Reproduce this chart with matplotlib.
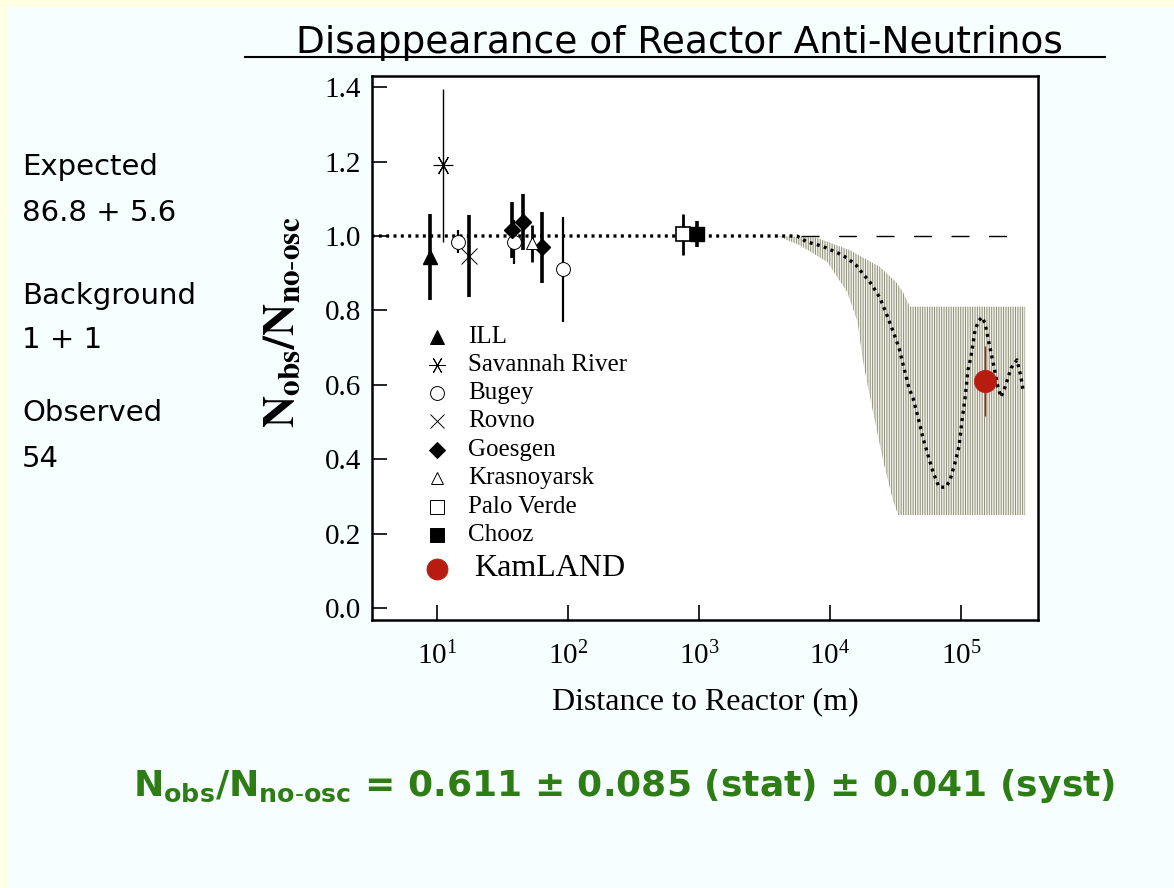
import matplotlib
matplotlib.use("Agg")
import matplotlib.pyplot as plt
import numpy as np
from matplotlib.patches import Rectangle
from matplotlib.lines import Line2D

plt.rcParams['mathtext.fontset'] = 'stix'
plt.rcParams['hatch.linewidth'] = 0.7

# Reactor experiments: distance (m), ratio, error
ill_L = [8.9];             ill_r = [0.944];  ill_e = [0.115]
savannah_L = [11.1];       savannah_r = [1.19]; savannah_e = [0.205]
bugey_L = [14.5, 39.0, 91.0]; bugey_r = [0.985, 0.984, 0.91]; bugey_e = [0.03, 0.06, 0.14]
rovno_L = [17.5];          rovno_r = [0.947]; rovno_e = [0.11]
goesgen_L = [37.5, 45.6, 63.0]; goesgen_r = [1.016, 1.037, 0.970]; goesgen_e = [0.075, 0.075, 0.095]
krasno_L = [53.0];         krasno_r = [0.98]; krasno_e = [0.05]
paloverde_L = [757.0];     paloverde_r = [1.005]; paloverde_e = [0.055]
chooz_L = [960.0];         chooz_r = [1.005]; chooz_e = [0.035]
kamland_L = [1.52e5];      kamland_r = [0.611]; kamland_e = [0.094]

# Best-fit oscillation curve (log10 distance, ratio)
curve_logL = [0.50, 3.748, 3.824, 3.939, 4.061, 4.130, 4.198, 4.252, 4.305, 4.344,
              4.382, 4.435, 4.481, 4.527, 4.557, 4.603, 4.634, 4.664, 4.710, 4.748,
              4.786, 4.832, 4.885, 4.916, 4.954, 4.985, 5.008, 5.031, 5.053, 5.076,
              5.107, 5.135, 5.160, 5.183, 5.214, 5.252, 5.282, 5.305, 5.336, 5.382,
              5.427, 5.458, 5.473]
curve_r = [1.0, 1.0, 0.984, 0.973, 0.954, 0.941, 0.922, 0.898, 0.876, 0.855,
           0.833, 0.787, 0.744, 0.699, 0.656, 0.591, 0.564, 0.524, 0.457, 0.411,
           0.366, 0.325, 0.325, 0.344, 0.390, 0.435, 0.505, 0.564, 0.640, 0.675,
           0.747, 0.772, 0.782, 0.766, 0.712, 0.648, 0.594, 0.567, 0.594, 0.645,
           0.667, 0.621, 0.586]

# Allowed region band
band_up_logL = [3.60, 3.90, 4.15, 4.38, 4.51, 4.56, 4.61, 5.49]
band_up = [1.0, 0.995, 0.962, 0.917, 0.874, 0.847, 0.81, 0.81]
band_lo_logL = [3.60, 3.77, 3.98, 4.13, 4.21, 4.25, 4.33, 4.41, 4.48, 4.52, 5.49]
band_lo = [1.0, 0.975, 0.93, 0.85, 0.77, 0.667, 0.524, 0.39, 0.29, 0.25, 0.25]

legend_names = ["ILL", "Savannah River", "Bugey", "Rovno", "Goesgen",
                "Krasnoyarsk", "Palo Verde", "Chooz", "KamLAND"]

fig = plt.figure(figsize=(11.74, 8.88), dpi=100)
fig.patch.set_facecolor('#f6feff')
# yellow strips at left and top edge
fig.patches.append(Rectangle((0, 0), 8 / 1174, 1, transform=fig.transFigure,
                             facecolor='#ffffe4', edgecolor='none', zorder=0))
fig.patches.append(Rectangle((0, 1 - 7 / 888), 1, 7 / 888, transform=fig.transFigure,
                             facecolor='#ffffe4', edgecolor='none', zorder=0))

ax = fig.add_axes([372 / 1174, 1 - 620 / 888, 666 / 1174, 544 / 888])
ax.set_facecolor('white')
ax.set_xscale('log')
ax.set_xlim(3.19, 3.87e5)
ax.set_ylim(-0.032, 1.43)

# band
poly_x = np.concatenate([10 ** np.array(band_up_logL), 10 ** np.array(band_lo_logL)[::-1]])
poly_y = np.concatenate([band_up, band_lo[::-1]])
ax.fill(poly_x, poly_y, facecolor='#f3f3e8', edgecolor='#8e8e7c', hatch='|||||||',
        linewidth=0, zorder=1)

# no-oscillation line
ax.plot([10 ** 3.78, 10 ** 5.47], [1.0, 1.0], color='black', lw=1.0,
        dashes=(13, 14), zorder=2)
ax.plot(10 ** np.array(curve_logL), curve_r, color='black', lw=2.4,
        dashes=(0.9, 1.3), zorder=3)

def points(L, r, e, marker, ms, fc, lw_err=2.6, mew=1.0, color='black'):
    ax.errorbar(L, r, yerr=e, fmt='none', ecolor=color, elinewidth=lw_err,
                capsize=0, zorder=4)
    ax.plot(L, r, linestyle='none', marker=marker, markersize=ms,
            markerfacecolor=fc, markeredgecolor=color, markeredgewidth=mew, zorder=5)

points(ill_L, ill_r, ill_e, '^', 10, 'black')
points(savannah_L, savannah_r, savannah_e, (6, 2, 90), 14, 'black', lw_err=1.0, mew=0.8)
points(bugey_L, bugey_r, bugey_e, 'o', 10, 'white', lw_err=1.6, mew=0.7)
points(rovno_L, rovno_r, rovno_e, 'x', 11, 'black', mew=0.7)
points(goesgen_L, goesgen_r, goesgen_e, 'D', 8, 'black')
points(krasno_L, krasno_r, krasno_e, '^', 9, 'white', lw_err=2.0, mew=0.7)
points(paloverde_L, paloverde_r, paloverde_e, 's', 10, 'white', lw_err=2.0, mew=1.2)
points(chooz_L, chooz_r, chooz_e, 's', 10, 'black')
points(kamland_L, kamland_r, kamland_e, 'o', 16, '#b81c10', lw_err=1.0,
       mew=0.5, color='#b81c10')

# key inside the axes
leg_styles = [('^', 10, 'black', 'black'), ((6, 2, 90), 12, 'black', 'black'),
              ('o', 10, 'white', 'black'), ('x', 10, 'black', 'black'),
              ('D', 8, 'black', 'black'), ('^', 9, 'white', 'black'),
              ('s', 10, 'white', 'black'), ('s', 10, 'black', 'black'),
              ('o', 15, '#b81c10', '#b81c10')]
leg_y = [0.520, 0.469, 0.417, 0.366, 0.3125, 0.261, 0.208, 0.156, 0.094]
for name, (m, ms, fc, ec), yy in zip(legend_names, leg_styles, leg_y):
    ax.add_line(Line2D([0.098], [yy], transform=ax.transAxes, marker=m, markersize=ms,
                       markerfacecolor=fc, markeredgecolor=ec, markeredgewidth=0.7,
                       linestyle='none'))
    big = name == "KamLAND"
    ax.text(0.153 if big else 0.144, yy, name, transform=ax.transAxes,
            family='Liberation Serif', fontsize=23 if big else 18,
            va='center', ha='left')

ax.set_yticks(np.arange(0, 1.41, 0.2))
ax.set_yticklabels(['%.1f' % v for v in np.arange(0, 1.41, 0.2)])
ax.set_xticks([1e1, 1e2, 1e3, 1e4, 1e5])
ax.xaxis.set_minor_locator(matplotlib.ticker.NullLocator())
ax.tick_params(axis='both', direction='in', length=11, width=1.2,
               labelsize=21)
ax.tick_params(axis='x', pad=16)
ax.tick_params(axis='y', pad=8)
for lab in ax.get_xticklabels() + ax.get_yticklabels():
    lab.set_family('Liberation Serif')
for sp in ax.spines.values():
    sp.set_linewidth(1.8)

ax.set_xlabel('Distance to Reactor (m)', family='Liberation Serif', fontsize=23,
              labelpad=12)
fig.text(281 / 1174, 1 - 322 / 888, r'$\mathbf{N_{obs}/N_{no\text{-}osc}}$',
         rotation=90, ha='center', va='center', fontsize=32)

# title and underline
fig.text(679 / 1174, 1 - 43 / 888, 'Disappearance of Reactor Anti-Neutrinos',
         family='DejaVu Sans', fontsize=27, ha='center', va='center')
fig.add_artist(Line2D([245 / 1174, 1105 / 1174], [1 - 57 / 888, 1 - 57 / 888],
                      transform=fig.transFigure, color='black', lw=1.5))

# event counts
side = [('Expected', 167), ('86.8 + 5.6', 213), ('Background', 296),
        ('1 + 1', 340), ('Observed', 413), ('54', 459)]
for s, yy in side:
    fig.text(22 / 1174, 1 - yy / 888, s, family='DejaVu Sans', fontsize=21,
             ha='left', va='center')

fig.text(624 / 1174, 1 - 786 / 888,
         r'N$_\mathbf{obs}$/N$_\mathbf{no\text{-}osc}$ = 0.611 ± 0.085 (stat) ± 0.041 (syst)',
         family='DejaVu Sans', fontweight='bold', color='#2e7d14', fontsize=26,
         ha='center', va='center', math_fontfamily='dejavusans')

fig.savefig('out.png', dpi=100, facecolor=fig.get_facecolor())
